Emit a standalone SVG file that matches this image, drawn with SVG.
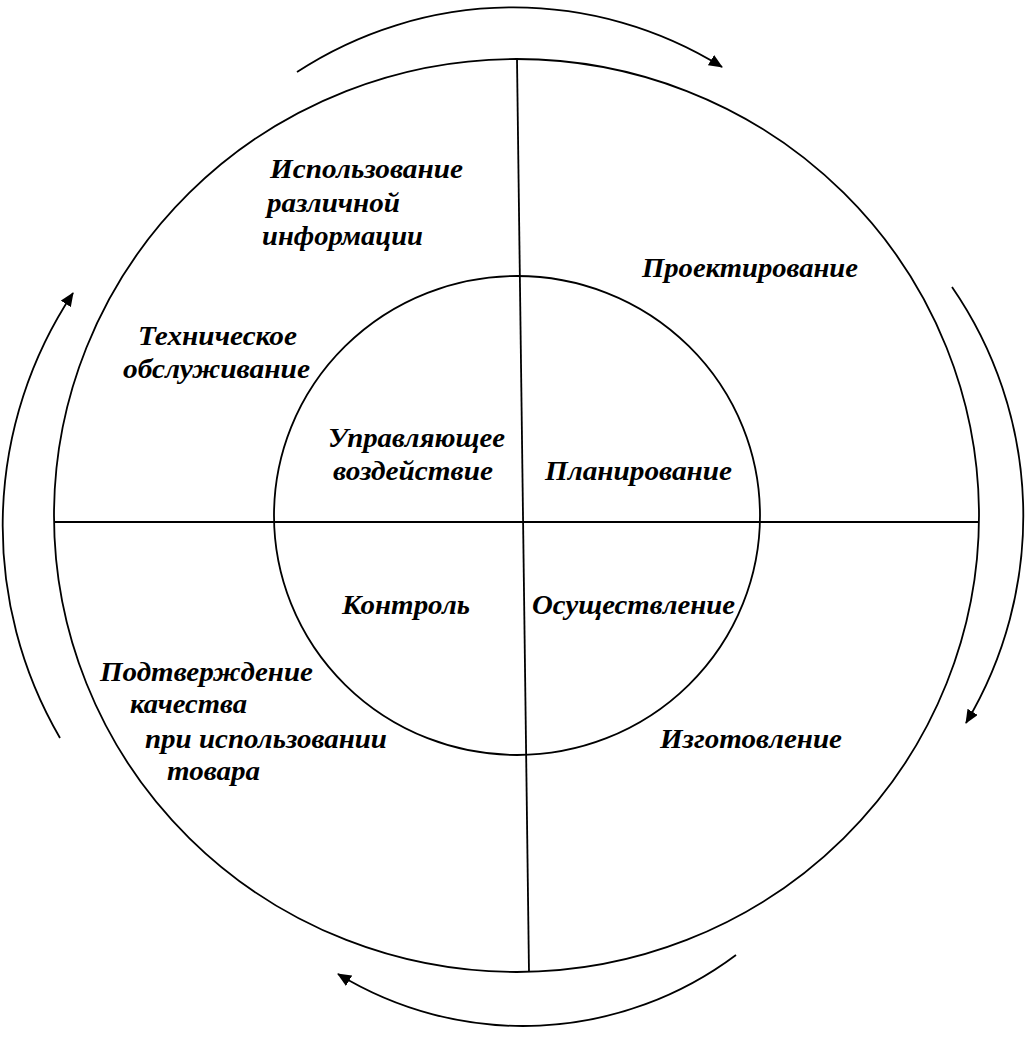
<svg xmlns="http://www.w3.org/2000/svg" width="1033" height="1039" viewBox="0 0 1033 1039">
<style>
.ln{fill:none;stroke:#000;stroke-width:1.8}
.ar{fill:none;stroke:#000;stroke-width:1.8;marker-end:url(#ah)}
text{font-family:"Liberation Serif","Times New Roman",serif;font-weight:bold;font-style:italic;font-size:27px;fill:#000}
</style>
<defs>
<marker id="ah" markerUnits="userSpaceOnUse" markerWidth="14" markerHeight="12" refX="13" refY="6" orient="auto">
<path d="M0,0 L14,6 L0,12 z" fill="#000"/>
</marker>
</defs>
<rect width="1033" height="1039" fill="#fff"/>
<g id="outer-circle"><ellipse class="ln" cx="516.5" cy="515.5" rx="462.5" ry="456.5"/></g>
<g id="inner-circle"><ellipse class="ln" cx="517" cy="515.5" rx="243" ry="239.5"/></g>
<g id="connectors">
<line class="ln" x1="517" y1="59" x2="529" y2="972"/>
<line class="ln" x1="54" y1="522" x2="979" y2="522"/>
<path class="ar" d="M297,72 A395,395 0 0 1 722,67"/>
<path class="ar" d="M952,287 A403,403 0 0 1 966,723"/>
<path class="ar" d="M736,955 A355,355 0 0 1 338,974"/>
<path class="ar" d="M60,738 A421,421 0 0 1 73,293"/>
</g>
<g id="n-info">
<text x="270" y="178" textLength="193" lengthAdjust="spacingAndGlyphs">Использование</text>
<text x="267" y="212" textLength="133" lengthAdjust="spacingAndGlyphs">различной</text>
<text x="262" y="245" textLength="161" lengthAdjust="spacingAndGlyphs">информации</text>
</g>
<g id="n-tech">
<text x="138" y="345" textLength="159" lengthAdjust="spacingAndGlyphs">Техническое</text>
<text x="123" y="378" textLength="187" lengthAdjust="spacingAndGlyphs">обслуживание</text>
</g>
<g id="n-proj"><text x="642" y="277" textLength="216" lengthAdjust="spacingAndGlyphs">Проектирование</text></g>
<g id="n-upr">
<text x="328" y="447" textLength="177" lengthAdjust="spacingAndGlyphs">Управляющее</text>
<text x="333" y="480" textLength="160" lengthAdjust="spacingAndGlyphs">воздействие</text>
</g>
<g id="n-plan"><text x="545" y="480" textLength="187" lengthAdjust="spacingAndGlyphs">Планирование</text></g>
<g id="n-kontr"><text x="342" y="614" textLength="128" lengthAdjust="spacingAndGlyphs">Контроль</text></g>
<g id="n-osush"><text x="532" y="614" textLength="203" lengthAdjust="spacingAndGlyphs">Осуществление</text></g>
<g id="n-izg"><text x="660" y="748" textLength="182" lengthAdjust="spacingAndGlyphs">Изготовление</text></g>
<g id="n-podtv">
<text x="100" y="681" textLength="213" lengthAdjust="spacingAndGlyphs">Подтверждение</text>
<text x="130" y="713" textLength="117" lengthAdjust="spacingAndGlyphs">качества</text>
<text x="145" y="748" textLength="242" lengthAdjust="spacingAndGlyphs">при использовании</text>
<text x="167" y="780" textLength="93" lengthAdjust="spacingAndGlyphs">товара</text>
</g>
</svg>
